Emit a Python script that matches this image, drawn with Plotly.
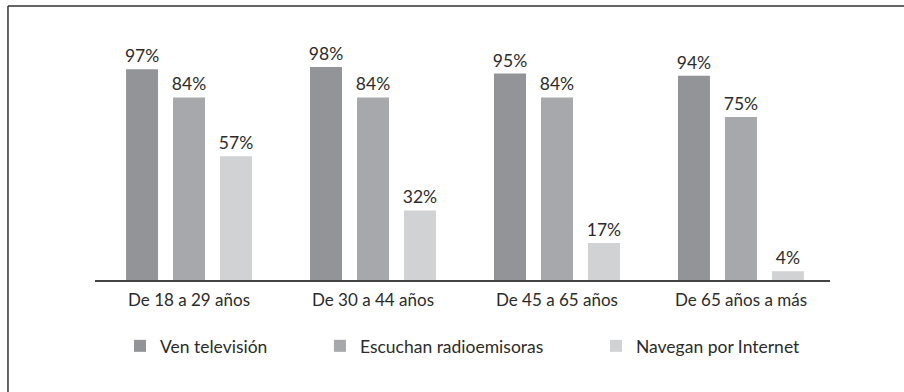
import plotly.graph_objects as go

# Age groups and share of people using each medium (%)
age_groups = ["De 18 a 29 años", "De 30 a 44 años", "De 45 a 65 años", "De 65 años a más"]
series_names = ["Ven televisión", "Escuchan radioemisoras", "Navegan por Internet"]
television = [97, 98, 95, 94]
radio = [84, 84, 84, 75]
internet = [57, 32, 17, 4]

colors = ["#939497", "#a7a8ab", "#d1d2d4"]
text_color = "#2b2b2b"
font_family = "Lato, 'Open Sans', sans-serif"

fig = go.Figure()
legend_ids = ["legend", "legend2", "legend3"]
for name, values, color, lg in zip(series_names, [television, radio, internet], colors, legend_ids):
    fig.add_trace(go.Bar(
        x=age_groups,
        y=values,
        name=name,
        marker=dict(color=color, line=dict(width=0)),
        text=[f"{v}%" for v in values],
        textposition="outside",
        textfont=dict(size=17.5, color=text_color, family=font_family),
        cliponaxis=False,
        constraintext="none",
        legend=lg,
        hoverinfo="skip",
    ))

legend_common = dict(
    orientation="h",
    yanchor="middle",
    xanchor="left",
    y=-0.276,
    font=dict(size=17.5, color=text_color, family=font_family),
    bgcolor="rgba(0,0,0,0)",
)

fig.update_layout(
    width=904,
    height=392,
    margin=dict(l=95, r=74, t=41, b=112),
    paper_bgcolor="white",
    plot_bgcolor="white",
    barmode="group",
    bargap=0.234,
    bargroupgap=0.319,
    showlegend=True,
    legend=dict(x=0.034, **legend_common),
    legend2=dict(x=0.306, **legend_common),
    legend3=dict(x=0.6816, **legend_common),
    xaxis=dict(
        range=[-0.511, 3.484],
        showline=True,
        linecolor="#444444",
        linewidth=1.5,
        ticks="",
        ticklabelstandoff=4,
        tickfont=dict(size=17, color=text_color, family=font_family),
        showgrid=False,
        zeroline=False,
        fixedrange=True,
    ),
    yaxis=dict(
        range=[0, 110],
        visible=False,
        showgrid=False,
        zeroline=False,
        fixedrange=True,
    ),
    shapes=[
        # frame lines along the top and left edges
        dict(type="line", xref="paper", yref="paper", x0=-0.1184, x1=1.11, y0=1.1464, y1=1.1464,
             line=dict(color="#333333", width=1.5)),
        dict(type="line", xref="paper", yref="paper", x0=-0.1184, x1=-0.1184, y0=1.1464, y1=-0.48,
             line=dict(color="#333333", width=1.5)),
    ],
)

fig.write_html("out.html")
